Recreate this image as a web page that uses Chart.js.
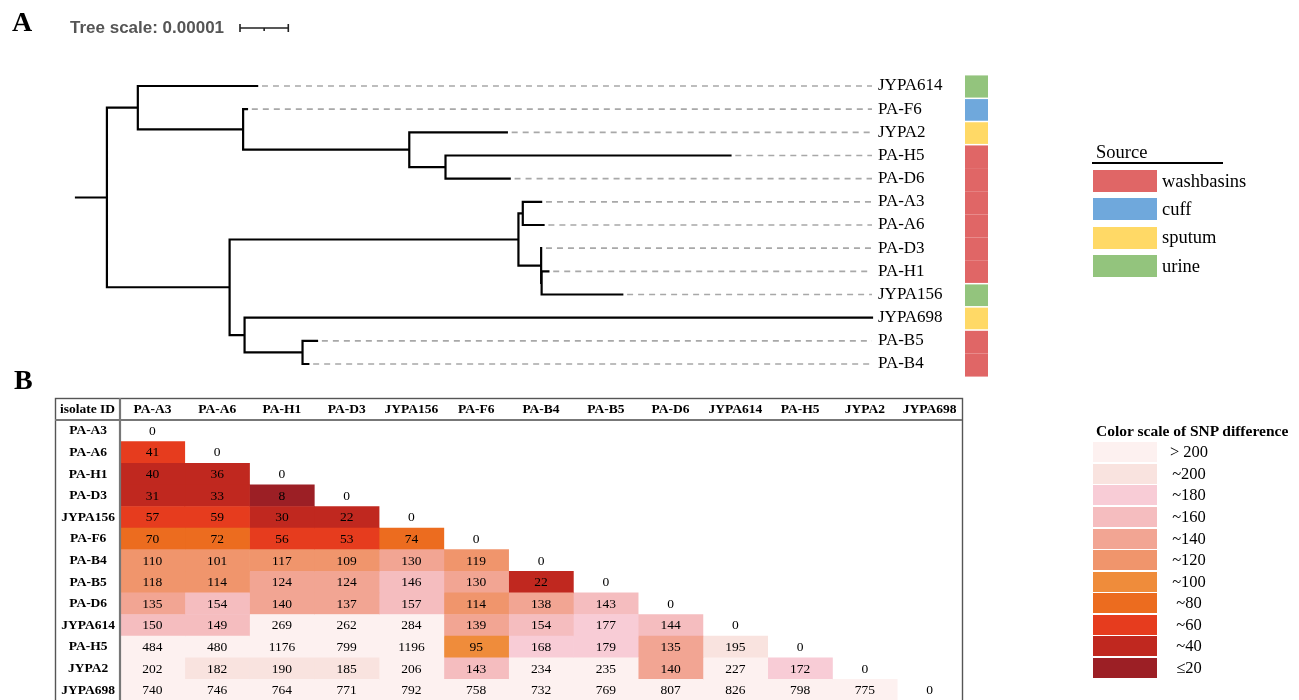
<!DOCTYPE html>
<html>
<head>
<meta charset="utf-8">
<title>Phylogeny and SNP difference</title>
<script src="https://cdn.jsdelivr.net/npm/chart.js@4.4.1/dist/chart.umd.min.js"></script>
<style>
  html, body { margin: 0; padding: 0; background: #fff; }
  body { width: 1299px; height: 700px; overflow: hidden; position: relative;
         font-family: "Liberation Serif", "Times New Roman", serif; color: #000; }
  .abs { position: absolute; }
  #treeBox { left: 0; top: 0; width: 1299px; height: 390px; }
  #snpBox { left: 0; top: 390px; width: 1299px; height: 312px; }
  .panel { font-weight: bold; font-size: 28px; line-height: 28px; }
  .scaleText { font-family: "Liberation Sans", Arial, sans-serif; font-weight: bold;
               font-size: 17px; line-height: 17px; color: #555; }
  .srcRow { display: flex; align-items: center; height: 22px; }
  .srcRow span.box { width: 64px; height: 22px; display: block; }
  .srcRow span.lab { margin-left: 5px; font-size: 18.5px; }
  .binBox { width: 64px; height: 20px; }
  .binLab { width: 60px; text-align: center; font-size: 16.5px; line-height: 20px; }
</style>
</head>
<body>
<div id="treeBox" class="abs"><canvas id="treeChart"></canvas></div>
<div id="snpBox" class="abs"><canvas id="snpChart"></canvas></div>

<div class="abs panel" style="left:12px;top:8px">A</div>
<div class="abs panel" style="left:14px;top:366px">B</div>
<div class="abs scaleText" style="left:70px;top:19px">Tree scale: 0.00001</div>

<div class="abs" style="left:1096px;top:143px;font-size:18.5px;line-height:18.5px">Source</div>
<div class="abs" style="left:1092px;top:162px;width:131px;height:1.5px;background:#000"></div>
<div id="sourceLegend"></div>

<div class="abs" style="left:1096px;top:423px;font-size:15.5px;line-height:15.5px;font-weight:bold">Color scale of SNP difference</div>
<div id="binLegend"></div>

<script>
// ---- panel A: tree ----
const leafNames = ['JYPA614', 'PA-F6', 'JYPA2', 'PA-H5', 'PA-D6', 'PA-A3', 'PA-A6',
                   'PA-D3', 'PA-H1', 'JYPA156', 'JYPA698', 'PA-B5', 'PA-B4'];
const leafSource = ['urine', 'cuff', 'sputum', 'washbasins', 'washbasins', 'washbasins', 'washbasins',
                    'washbasins', 'washbasins', 'urine', 'sputum', 'washbasins', 'washbasins'];

// branch lengths in units of 1e-6 (tree scale bar = 0.00001 = 10 units)
const treeNodes = ['root', 'n1', 'JYPA614', 'n2', 'PA-F6', 'n3', 'JYPA2', 'n4', 'PA-H5', 'PA-D6',
                   'n5', 'n6', 'n7', 'PA-A3', 'PA-A6', 'n8', 'PA-D3', 'n9', 'PA-H1', 'JYPA156',
                   'n10', 'JYPA698', 'n11', 'PA-B5', 'PA-B4'];
const treeParents = [null, 'root', 'n1', 'n1', 'n2', 'n2', 'n3', 'n3', 'n4', 'n4',
                     'root', 'n5', 'n6', 'n7', 'n7', 'n6', 'n8', 'n8', 'n9', 'n9',
                     'n5', 'n10', 'n10', 'n11', 'n11'];
const branchLengths = [6.4, 6.4, 24.7, 21.8, 0.8, 34.4, 20.2, 7.5, 59.0, 13.3,
                       25.4, 59.8, 0.9, 3.8, 4.3, 4.7, 0, 0.1, 1.4, 16.7,
                       3.1, 129.9, 12.0, 3.0, 1.2];
const treeScaleUnits = 10;

const sourceNames = ['washbasins', 'cuff', 'sputum', 'urine'];
const sourceColors = ['#e06666', '#6fa8dc', '#ffd966', '#93c47d'];

// ---- panel B: SNP matrix ----
const isolates = ['PA-A3', 'PA-A6', 'PA-H1', 'PA-D3', 'JYPA156', 'PA-F6', 'PA-B4',
                  'PA-B5', 'PA-D6', 'JYPA614', 'PA-H5', 'JYPA2', 'JYPA698'];
const snpRows = [
  [0],
  [41, 0],
  [40, 36, 0],
  [31, 33, 8, 0],
  [57, 59, 30, 22, 0],
  [70, 72, 56, 53, 74, 0],
  [110, 101, 117, 109, 130, 119, 0],
  [118, 114, 124, 124, 146, 130, 22, 0],
  [135, 154, 140, 137, 157, 114, 138, 143, 0],
  [150, 149, 269, 262, 284, 139, 154, 177, 144, 0],
  [484, 480, 1176, 799, 1196, 95, 168, 179, 135, 195, 0],
  [202, 182, 190, 185, 206, 143, 234, 235, 140, 227, 172, 0],
  [740, 746, 764, 771, 792, 758, 732, 769, 807, 826, 798, 775, 0]
];
const binLimits = [20, 40, 60, 80, 100, 120, 140, 160, 180, 200];
const binColors = ['#9c1f25', '#c0281f', '#e63c1e', '#ec6c1f', '#ef8c3b', '#f0956c',
                   '#f2a593', '#f5bdbf', '#f8ccd6', '#f9e3df', '#fdf1f0'];
const binLabels = ['≤20', '~40', '~60', '~80', '~100', '~120', '~140', '~160', '~180', '~200', '> 200'];

const SERIF = '"Liberation Serif", "Times New Roman", serif';
Chart.defaults.font.family = SERIF;
Chart.defaults.color = '#000';

// node positions from the tree
const nodeX = {}, nodeY = {}, kids = {};
treeNodes.forEach((n, i) => {
  const p = treeParents[i];
  nodeX[n] = (p ? nodeX[p] : 0) + branchLengths[i];
  if (p) (kids[p] = kids[p] || []).push(n);
});
function yOf(n) {
  if (!kids[n]) return leafNames.indexOf(n);
  const c = kids[n];
  return (yOf(c[0]) + yOf(c[c.length - 1])) / 2;
}
treeNodes.forEach(n => { nodeY[n] = yOf(n); });
const maxTip = Math.max(...leafNames.map(n => nodeX[n]));

const GAP = { x: null, y: null };
const branchPts = [{ x: 0, y: nodeY.root }, { x: nodeX.root, y: nodeY.root }, GAP];
treeNodes.forEach((n, i) => {
  const p = treeParents[i];
  if (p) branchPts.push({ x: nodeX[p], y: nodeY[n] }, { x: nodeX[n], y: nodeY[n] }, GAP);
  if (kids[n]) {
    const c = kids[n];
    branchPts.push({ x: nodeX[n], y: nodeY[c[0]] }, { x: nodeX[n], y: nodeY[c[c.length - 1]] }, GAP);
  }
});
const guidePts = [];
leafNames.forEach(n => {
  if (nodeX[n] < maxTip - 0.5) guidePts.push({ x: nodeX[n] + 1, y: nodeY[n] }, { x: maxTip, y: nodeY[n] }, GAP);
});

const treeExtras = {
  id: 'treeExtras',
  afterDraw(chart) {
    const { ctx, scales: { x, y } } = chart;
    ctx.save();
    // source strip
    leafNames.forEach((n, i) => {
      const top = y.getPixelForValue(i - 0.5), bot = y.getPixelForValue(i + 0.5);
      ctx.fillStyle = sourceColors[sourceNames.indexOf(leafSource[i])];
      ctx.fillRect(965, top + 1, 23, bot - top);
      if (i > 0 && leafSource[i] !== leafSource[i - 1]) {
        ctx.fillStyle = '#fff';
        ctx.fillRect(965, top, 23, 1.5);
      }
    });
    // tree scale bar
    const len = x.getPixelForValue(treeScaleUnits) - x.getPixelForValue(0);
    const x0 = 240, yb = 28;
    ctx.strokeStyle = '#222';
    ctx.lineWidth = 1.6;
    ctx.beginPath();
    ctx.moveTo(x0, yb); ctx.lineTo(x0 + len, yb);
    ctx.moveTo(x0, yb - 4); ctx.lineTo(x0, yb + 4);
    ctx.moveTo(x0 + len, yb - 4); ctx.lineTo(x0 + len, yb + 4);
    ctx.moveTo(x0 + len / 2, yb); ctx.lineTo(x0 + len / 2, yb + 3);
    ctx.stroke();
    ctx.restore();
  }
};

new Chart(document.getElementById('treeChart'), {
  type: 'scatter',
  data: {
    datasets: [
      { data: guidePts, showLine: true, borderColor: '#a8a8a8', borderWidth: 1.7,
        borderDash: [6, 5], pointRadius: 0, clip: false },
      { data: branchPts, showLine: true, borderColor: '#000', borderWidth: 2.2,
        borderCapStyle: 'square', pointRadius: 0, clip: false }
    ]
  },
  options: {
    responsive: true,
    maintainAspectRatio: false,
    animation: false,
    layout: { padding: { left: 76, right: 1299 - 872 - 120, top: 86, bottom: 26 } },
    plugins: { legend: { display: false }, tooltip: { enabled: false } },
    scales: {
      x: { type: 'linear', display: false, min: 0, max: maxTip },
      y: {
        type: 'linear', position: 'right', reverse: true, min: 0, max: leafNames.length - 1,
        afterBuildTicks: s => { s.ticks = leafNames.map((n, i) => ({ value: i })); },
        afterFit: s => { s.width = 120; s.paddingTop = 0; s.paddingBottom = 0; },
        grid: { display: false, drawTicks: false },
        border: { display: false },
        ticks: { autoSkip: false, padding: 6, color: '#000', font: { size: 17 },
                 callback: v => leafNames[v] }
      }
    }
  },
  plugins: [treeExtras]
});

// ---- heatmap ----
function snpColor(v) {
  if (v === 0) return '#ffffff';
  let b = binLimits.findIndex(l => v <= l);
  if (b < 0) b = binLimits.length;
  return binColors[b];
}

const colDatasets = isolates.map((name, c) => ({
  label: name,
  data: isolates.map((_, r) => (r >= c ? [c, c + 1] : null)),
  backgroundColor: ctx => snpColor(snpRows[ctx.dataIndex][c]),
  borderWidth: 0,
  barPercentage: 1,
  categoryPercentage: 1,
  grouped: false
}));

const tableExtras = {
  id: 'tableExtras',
  afterDatasetsDraw(chart) {
    const ctx = chart.ctx;
    ctx.save();
    ctx.font = '13.5px ' + SERIF;
    ctx.fillStyle = '#000';
    ctx.textAlign = 'center';
    ctx.textBaseline = 'middle';
    chart.data.datasets.forEach((ds, c) => {
      chart.getDatasetMeta(c).data.forEach((el, r) => {
        if (!ds.data[r]) return;
        const p = el.getCenterPoint();
        ctx.fillText(String(snpRows[r][c]), p.x, p.y + 0.5);
      });
    });
    ctx.restore();
  },
  afterDraw(chart) {
    const { ctx, chartArea: a, scales: { x, y } } = chart;
    const left = y.left, top = x.top;
    ctx.save();
    ctx.strokeStyle = '#555';
    ctx.lineWidth = 1.4;
    ctx.strokeRect(left + 0.5, top + 0.5, a.right - left, a.bottom - top + 4);
    ctx.strokeStyle = '#777';
    ctx.lineWidth = 2.2;
    ctx.beginPath();
    ctx.moveTo(left, a.top); ctx.lineTo(a.right, a.top);
    ctx.moveTo(a.left, top); ctx.lineTo(a.left, a.bottom + 4);
    ctx.stroke();
    ctx.font = 'bold 13.5px ' + SERIF;
    ctx.fillStyle = '#000';
    ctx.textAlign = 'center';
    ctx.textBaseline = 'middle';
    ctx.fillText('isolate ID', (left + a.left) / 2, (top + a.top) / 2 + 1);
    ctx.restore();
  }
};

new Chart(document.getElementById('snpChart'), {
  type: 'bar',
  data: { labels: isolates, datasets: colDatasets },
  options: {
    indexAxis: 'y',
    responsive: true,
    maintainAspectRatio: false,
    animation: false,
    layout: { padding: { left: 55, right: 337, top: 8, bottom: 1 } },
    plugins: { legend: { display: false }, tooltip: { enabled: false } },
    scales: {
      x: {
        type: 'linear', position: 'top', min: 0, max: isolates.length,
        afterBuildTicks: s => { s.ticks = isolates.map((n, i) => ({ value: i + 0.5 })); },
        afterFit: s => { s.height = 22; s.paddingLeft = 0; s.paddingRight = 0; },
        grid: { display: false, drawTicks: false },
        border: { display: false },
        ticks: { autoSkip: false, maxRotation: 0, padding: 2, color: '#000',
                 font: { size: 13.5, weight: 'bold' },
                 callback: (v, i) => isolates[i] }
      },
      y: {
        type: 'category',
        afterFit: s => { s.width = 65; s.paddingTop = 0; s.paddingBottom = 0; },
        grid: { display: false, drawTicks: false },
        border: { display: false },
        ticks: { autoSkip: false, crossAlign: 'center', padding: 5, color: '#000',
                 font: { size: 13.5, weight: 'bold' } }
      }
    }
  },
  plugins: [tableExtras]
});

// ---- legends ----
const srcBox = document.getElementById('sourceLegend');
sourceNames.forEach((s, i) => {
  const row = document.createElement('div');
  row.className = 'abs srcRow';
  row.style.left = '1093px';
  row.style.top = (170 + i * 28.4) + 'px';
  row.innerHTML = '<span class="box" style="background:' + sourceColors[i] + '"></span><span class="lab">' + s + '</span>';
  srcBox.appendChild(row);
});

const binBox = document.getElementById('binLegend');
binLabels.slice().reverse().forEach((lab, i) => {
  const color = binColors[binColors.length - 1 - i];
  const t = 442.3 + i * 21.55;
  const box = document.createElement('div');
  box.className = 'abs binBox';
  box.style.left = '1093px';
  box.style.top = t + 'px';
  box.style.background = color;
  binBox.appendChild(box);
  const l = document.createElement('div');
  l.className = 'abs binLab';
  l.style.left = '1159px';
  l.style.top = t + 'px';
  l.textContent = lab;
  binBox.appendChild(l);
});
</script>
</body>
</html>
